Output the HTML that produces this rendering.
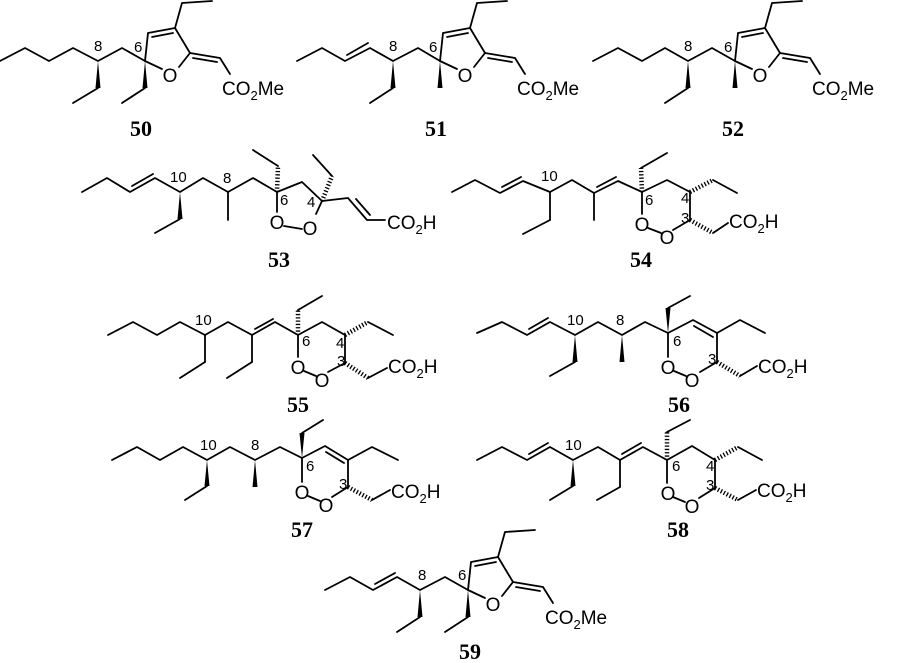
<!DOCTYPE html>
<html><head><meta charset="utf-8"><style>
html,body{margin:0;padding:0;background:#fff;width:910px;height:663px;overflow:hidden}
svg{display:block}
.b{stroke:#000;stroke-width:1.8;fill:none;stroke-linejoin:round;stroke-linecap:round}
.h{stroke:#000;stroke-width:4.5;stroke-dasharray:1.3 2}
.t{font-family:"Liberation Sans",sans-serif;font-size:19px;fill:#000}
.l{font-family:"Liberation Sans",sans-serif;font-size:15px;fill:#000}
.n{font-family:"Liberation Serif",serif;font-size:22px;font-weight:bold;fill:#000;text-anchor:middle}
.O{font-family:"Liberation Sans",sans-serif;font-size:19px;fill:#000;text-anchor:middle}
</style></head><body>
<svg width="910" height="663" viewBox="0 0 910 663" xmlns="http://www.w3.org/2000/svg">
<defs>
<g id="fur">
<polyline class="b" points="0,0 3,-28 30,-33 45,-8 34,6"/>
<line class="b" x1="7" y1="-24" x2="28" y2="-28"/>
<line class="b" x1="0" y1="0" x2="17" y2="8"/>
<polyline class="b" points="45,-8 75,-3 85,13"/>
<line class="b" x1="48" y1="-3" x2="72" y2="1"/>
<polyline class="b" points="30,-33 37,-58 67,-60"/>
<text class="O" x="25" y="21">O</text>
<text class="t" x="77" y="34">CO<tspan font-size="13" dy="5">2</tspan><tspan dy="-5">Me</tspan></text>
</g>
</defs>

<!-- 50 -->
<polyline class="b" points="0,61 25,48 49,61 73,48 98,61 122,48 145,61"/>
<polygon points="98,61 95.5,88 100.5,88"/><line class="b" x1="98" y1="88" x2="73" y2="103"/>
<polygon points="145,61 142.5,88 147.5,88"/><line class="b" x1="145" y1="88" x2="122" y2="103"/>
<use href="#fur" x="145" y="61"/>
<text class="l" x="94" y="51">8</text><text class="l" x="134" y="52">6</text>
<text class="n" x="141" y="136">50</text>

<!-- 51 -->
<polyline class="b" points="297,61 322,48 345,61 370,48 393,61 418,48 440,61"/>
<line class="b" x1="347" y1="55" x2="368" y2="43"/>
<polygon points="393,61 390.5,88 395.5,88"/><line class="b" x1="393" y1="88" x2="370" y2="103"/>
<polygon points="440,61 437.5,88 442.5,88"/>
<use href="#fur" x="440" y="61"/>
<text class="l" x="389" y="51">8</text><text class="l" x="429" y="52">6</text>
<text class="n" x="436" y="136">51</text>

<!-- 52 -->
<polyline class="b" points="593,61 618,48 642,61 665,48 688,61 712,48 735,61"/>
<polygon points="688,61 685.5,88 690.5,88"/><line class="b" x1="688" y1="88" x2="665" y2="103"/>
<polygon points="735,61 732.5,88 737.5,88"/>
<use href="#fur" x="735" y="61"/>
<text class="l" x="684" y="51">8</text><text class="l" x="724" y="52">6</text>
<text class="n" x="733" y="136">52</text>

<!-- 53 -->
<polyline class="b" points="82,192 107,178 130,192 155,178 180,192 203,178 228,192 253,178 277,192"/>
<line class="b" x1="132" y1="186" x2="153" y2="174"/>
<polygon points="180,192 177.5,219 182.5,219"/><line class="b" x1="180" y1="219" x2="155" y2="233"/>
<line class="b" x1="228" y1="192" x2="228" y2="220"/>
<line class="h" x1="277" y1="192" x2="278" y2="166"/><line class="b" x1="278" y1="166" x2="253" y2="150"/>
<polyline class="b" points="277,192 302,182 322,201 316,214"/>
<line class="b" x1="277" y1="192" x2="277" y2="212"/>
<line class="b" x1="284" y1="226" x2="302" y2="229"/>
<text class="O" x="277" y="229">O</text><text class="O" x="310" y="235">O</text>
<line class="h" x1="322" y1="201" x2="332" y2="176"/><line class="b" x1="332" y1="176" x2="313" y2="155"/>
<polyline class="b" points="322,201 348,198 367,220 385,220"/>
<line class="b" x1="356" y1="199" x2="370" y2="215"/>
<text class="t" x="387" y="229">CO<tspan font-size="13" dy="5">2</tspan><tspan dy="-5">H</tspan></text>
<text class="l" x="170" y="182">10</text><text class="l" x="223" y="183">8</text><text class="l" x="280" y="205">6</text><text class="l" x="307" y="207">4</text>
<text class="n" x="279" y="267">53</text>

<!-- 54 -->
<polyline class="b" points="452,192 475,180 500,193 523,181 550,192 572,180 594,193 618,181 642,192"/>
<line class="b" x1="502" y1="187" x2="521" y2="177"/>
<line class="b" x1="597" y1="187" x2="616" y2="177"/>
<line class="b" x1="550" y1="192" x2="550" y2="220"/><line class="b" x1="550" y1="220" x2="523" y2="234"/>
<line class="b" x1="594" y1="193" x2="594" y2="220"/>
<line class="h" x1="642" y1="192" x2="641" y2="168"/><line class="b" x1="641" y1="168" x2="667" y2="153"/>
<polyline class="b" points="642,192 667,180 690,192 690,220 673,230"/>
<line class="b" x1="642" y1="192" x2="642" y2="214"/>
<line class="b" x1="648" y1="228" x2="661" y2="233"/>
<text class="O" x="642" y="231">O</text><text class="O" x="667" y="244">O</text>
<line class="h" x1="690" y1="192" x2="713" y2="180"/><line class="b" x1="713" y1="180" x2="737" y2="193"/>
<line class="h" x1="690" y1="220" x2="713" y2="233"/><line class="b" x1="713" y1="233" x2="728" y2="223"/>
<text class="t" x="729" y="228">CO<tspan font-size="13" dy="5">2</tspan><tspan dy="-5">H</tspan></text>
<text class="l" x="541" y="181">10</text><text class="l" x="645" y="205">6</text><text class="l" x="681" y="203">4</text><text class="l" x="681" y="223">3</text>
<text class="n" x="641" y="267">54</text>

<!-- 55 -->
<polyline class="b" points="108,335 133,322 157,335 180,322 205,335 228,322 252,335 275,322 298,335"/>
<line class="b" x1="255" y1="329" x2="273" y2="319"/>
<line class="b" x1="205" y1="335" x2="205" y2="362"/><line class="b" x1="205" y1="362" x2="180" y2="378"/>
<line class="b" x1="252" y1="335" x2="252" y2="362"/><line class="b" x1="252" y1="362" x2="227" y2="378"/>
<line class="h" x1="298" y1="335" x2="298" y2="310"/><line class="b" x1="298" y1="310" x2="322" y2="296"/>
<polyline class="b" points="298,335 322,322 345,335 345,363 328,372"/>
<line class="b" x1="298" y1="335" x2="298" y2="357"/>
<line class="b" x1="304" y1="371" x2="316" y2="376"/>
<text class="O" x="298" y="374">O</text><text class="O" x="322" y="387">O</text>
<line class="h" x1="345" y1="335" x2="368" y2="322"/><line class="b" x1="368" y1="322" x2="393" y2="335"/>
<line class="h" x1="345" y1="363" x2="368" y2="378"/><line class="b" x1="368" y1="378" x2="387" y2="368"/>
<text class="t" x="388" y="373">CO<tspan font-size="13" dy="5">2</tspan><tspan dy="-5">H</tspan></text>
<text class="l" x="195" y="325">10</text><text class="l" x="302" y="346">6</text><text class="l" x="336" y="348">4</text><text class="l" x="337" y="366">3</text>
<text class="n" x="298" y="412">55</text>

<!-- 56 -->
<polyline class="b" points="477,333 502,322 527,335 550,322 575,335 598,322 622,335 645,322 668,333"/>
<line class="b" x1="529" y1="329" x2="548" y2="318"/>
<polygon points="575,335 572.5,362 577.5,362"/><line class="b" x1="575" y1="362" x2="550" y2="376"/>
<polygon points="622,335 619.5,362 624.5,362"/>
<polygon points="668,333 665.5,308 670.5,308"/><line class="b" x1="668" y1="308" x2="690" y2="296"/>
<polyline class="b" points="668,333 693,320 717,333 717,362 700,372"/>
<line class="b" x1="694" y1="326" x2="713" y2="337"/>
<line class="b" x1="668" y1="333" x2="668" y2="357"/>
<line class="b" x1="674" y1="371" x2="686" y2="376"/>
<text class="O" x="668" y="374">O</text><text class="O" x="692" y="387">O</text>
<polyline class="b" points="717,333 740,320 765,333"/>
<line class="h" x1="717" y1="362" x2="740" y2="376"/><line class="b" x1="740" y1="376" x2="757" y2="366"/>
<text class="t" x="758" y="373">CO<tspan font-size="13" dy="5">2</tspan><tspan dy="-5">H</tspan></text>
<text class="l" x="567" y="325">10</text><text class="l" x="616" y="325">8</text><text class="l" x="673" y="346">6</text><text class="l" x="708" y="364">3</text>
<text class="n" x="679" y="412">56</text>

<!-- 57 -->
<polyline class="b" points="112,460 137,447 160,460 183,447 207,460 230,447 255,460 280,447 302,458"/>
<polygon points="207,460 204.5,486 209.5,486"/><line class="b" x1="207" y1="486" x2="185" y2="500"/>
<polygon points="255,460 252.5,487 257.5,487"/>
<polygon points="302,458 299.5,433 304.5,433"/><line class="b" x1="302" y1="433" x2="323" y2="420"/>
<polyline class="b" points="302,458 325,446 348,460 348,487 332,497"/>
<line class="b" x1="326" y1="452" x2="344" y2="463"/>
<line class="b" x1="302" y1="458" x2="302" y2="482"/>
<line class="b" x1="308" y1="496" x2="320" y2="501"/>
<text class="O" x="302" y="499">O</text><text class="O" x="326" y="512">O</text>
<polyline class="b" points="348,460 372,447 398,460"/>
<line class="h" x1="348" y1="487" x2="372" y2="500"/><line class="b" x1="372" y1="500" x2="390" y2="490"/>
<text class="t" x="391" y="498">CO<tspan font-size="13" dy="5">2</tspan><tspan dy="-5">H</tspan></text>
<text class="l" x="200" y="450">10</text><text class="l" x="251" y="450">8</text><text class="l" x="306" y="471">6</text><text class="l" x="339" y="489">3</text>
<text class="n" x="302" y="537">57</text>

<!-- 58 -->
<polyline class="b" points="477,460 502,447 527,460 550,447 573,460 598,447 620,460 643,447 667,460"/>
<line class="b" x1="529" y1="454" x2="548" y2="443"/>
<line class="b" x1="622" y1="454" x2="641" y2="443"/>
<polygon points="573,460 570.5,486 575.5,486"/><line class="b" x1="573" y1="486" x2="550" y2="500"/>
<line class="b" x1="620" y1="460" x2="620" y2="487"/><line class="b" x1="620" y1="487" x2="597" y2="500"/>
<line class="h" x1="667" y1="460" x2="667" y2="432"/><line class="b" x1="667" y1="432" x2="690" y2="420"/>
<polyline class="b" points="667,460 692,446 715,460 715,488 699,498"/>
<line class="b" x1="667" y1="460" x2="667" y2="483"/>
<line class="b" x1="673" y1="497" x2="685" y2="502"/>
<text class="O" x="668" y="500">O</text><text class="O" x="692" y="513">O</text>
<line class="h" x1="715" y1="460" x2="738" y2="447"/><line class="b" x1="738" y1="447" x2="762" y2="460"/>
<line class="h" x1="715" y1="488" x2="738" y2="500"/><line class="b" x1="738" y1="500" x2="756" y2="490"/>
<text class="t" x="757" y="497">CO<tspan font-size="13" dy="5">2</tspan><tspan dy="-5">H</tspan></text>
<text class="l" x="565" y="450">10</text><text class="l" x="672" y="471">6</text><text class="l" x="706" y="471">4</text><text class="l" x="706" y="490">3</text>
<text class="n" x="678" y="537">58</text>

<!-- 59 -->
<polyline class="b" points="325,590 350,577 373,590 397,577 420,590 445,577 468,590"/>
<line class="b" x1="375" y1="584" x2="395" y2="573"/>
<polygon points="420,590 417.5,617 422.5,617"/><line class="b" x1="420" y1="617" x2="397" y2="632"/>
<polygon points="468,590 465.5,617 470.5,617"/><line class="b" x1="468" y1="617" x2="445" y2="632"/>
<use href="#fur" x="468" y="590"/>
<text class="l" x="418" y="580">8</text><text class="l" x="458" y="580">6</text>
<text class="n" x="470" y="659">59</text>
</svg>
</body></html>
